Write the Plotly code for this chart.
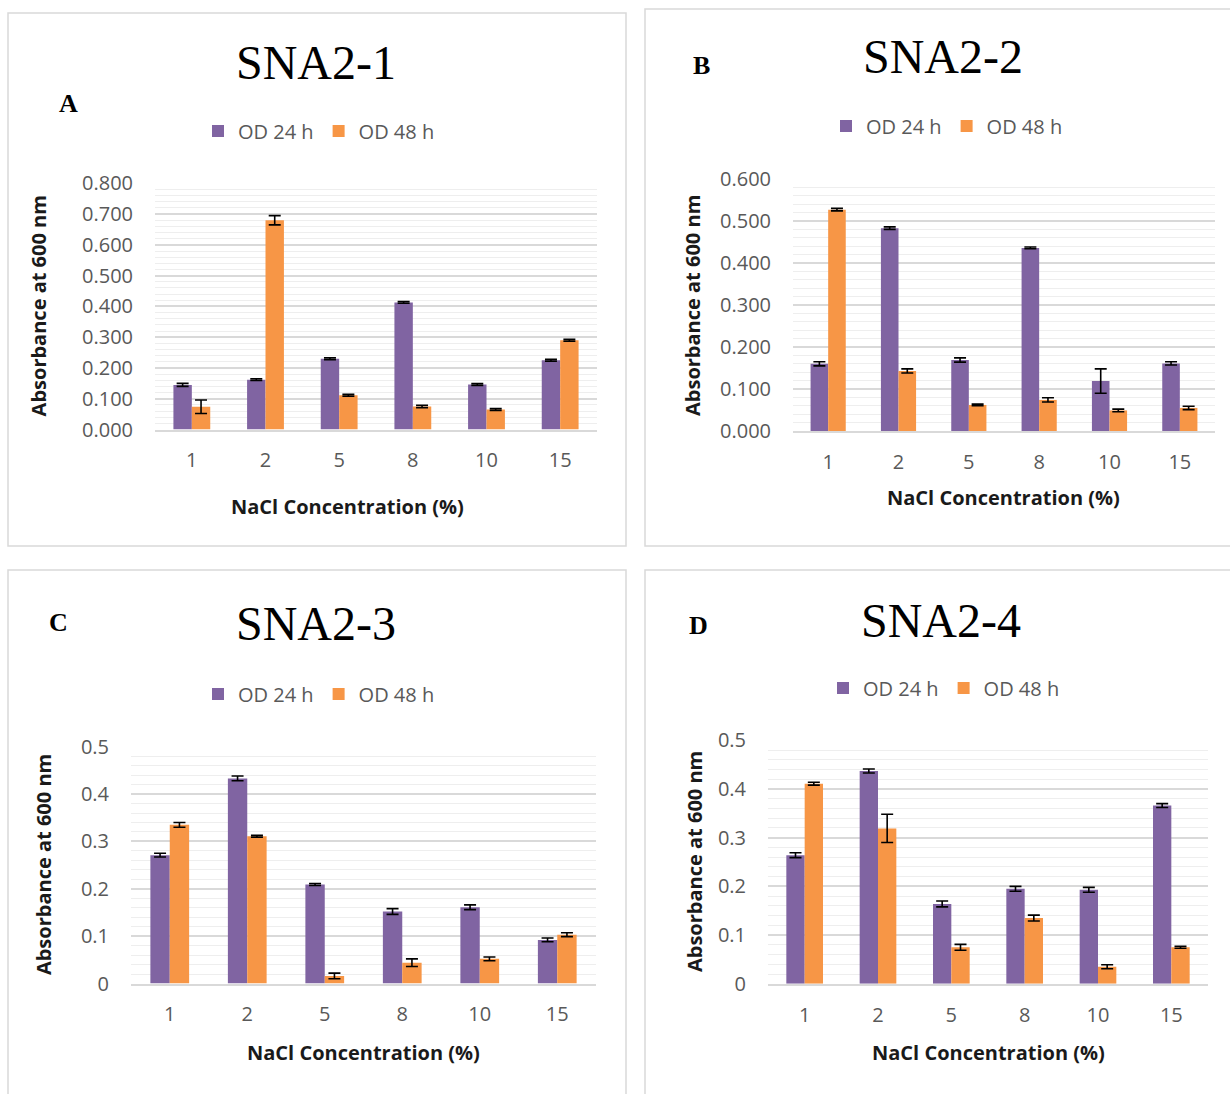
import plotly.graph_objects as go

# NaCl concentrations (%) on the x axis
nacl = ["1", "2", "5", "8", "10", "15"]

# SNA2-1
sna21_od24 = [0.145, 0.162, 0.230, 0.413, 0.146, 0.225]
sna21_od24_err = [0.005, 0.003, 0.003, 0.003, 0.003, 0.003]
sna21_od48 = [0.074, 0.680, 0.111, 0.075, 0.065, 0.290]
sna21_od48_err = [0.022, 0.015, 0.003, 0.004, 0.003, 0.003]

# SNA2-2
sna22_od24 = [0.160, 0.483, 0.169, 0.436, 0.119, 0.161]
sna22_od24_err = [0.005, 0.003, 0.005, 0.002, 0.029, 0.004]
sna22_od48 = [0.527, 0.143, 0.062, 0.074, 0.049, 0.055]
sna22_od48_err = [0.003, 0.005, 0.002, 0.005, 0.003, 0.004]

# SNA2-3
sna23_od24 = [0.271, 0.433, 0.209, 0.152, 0.161, 0.092]
sna23_od24_err = [0.004, 0.005, 0.002, 0.006, 0.005, 0.004]
sna23_od48 = [0.335, 0.311, 0.016, 0.044, 0.052, 0.103]
sna23_od48_err = [0.005, 0.002, 0.006, 0.008, 0.004, 0.004]

# SNA2-4
sna24_od24 = [0.264, 0.437, 0.164, 0.195, 0.193, 0.366]
sna24_od24_err = [0.005, 0.004, 0.006, 0.005, 0.005, 0.004]
sna24_od48 = [0.411, 0.319, 0.075, 0.135, 0.035, 0.075]
sna24_od48_err = [0.003, 0.029, 0.006, 0.006, 0.004, 0.002]

W, H = 1230, 1094
PURPLE = "#8064A2"
ORANGE = "#F79646"
GRAY_TXT = "#595959"
BODY_FONT = "Open Sans"
SERIF = "Liberation Serif"


def px(x):
    return x / W


def py(y):
    return 1 - y / H


panels = [
    dict(title="SNA2-1", letter="A", od24=sna21_od24, e24=sna21_od24_err,
         od48=sna21_od48, e48=sna21_od48_err, ymax=0.8, fmt=".3f",
         xdom=(155, 597), ydom=(183.3, 429.5), title_xy=(316, 63),
         letter_xy=(68, 104), legend_xy=(319, 131), ytitle_x=38,
         xtitle_xy=(347, 506), box=(8, 13, 626, 546)),
    dict(title="SNA2-2", letter="B", od24=sna22_od24, e24=sna22_od24_err,
         od48=sna22_od48, e48=sna22_od48_err, ymax=0.6, fmt=".3f",
         xdom=(793, 1215), ydom=(179, 431), title_xy=(943, 57),
         letter_xy=(701, 66), legend_xy=(947, 126), ytitle_x=693,
         xtitle_xy=(1003, 498), box=(645, 9, 1232, 546)),
    dict(title="SNA2-3", letter="C", od24=sna23_od24, e24=sna23_od24_err,
         od48=sna23_od48, e48=sna23_od48_err, ymax=0.5, fmt="",
         xdom=(131, 596), ydom=(746.7, 983.5), title_xy=(316, 624),
         letter_xy=(58, 622), legend_xy=(319, 694), ytitle_x=43,
         xtitle_xy=(363, 1052), box=(8, 570, 626, 1096)),
    dict(title="SNA2-4", letter="D", od24=sna24_od24, e24=sna24_od24_err,
         od48=sna24_od48, e48=sna24_od48_err, ymax=0.5, fmt="",
         xdom=(768, 1208), ydom=(740.3, 983.8), title_xy=(941, 620),
         letter_xy=(699, 625), legend_xy=(944, 688), ytitle_x=694,
         xtitle_xy=(988, 1052), box=(645, 570, 1232, 1096)),
]

fig = go.Figure()
annotations = []
shapes = []
layout_axes = {}

for i, p in enumerate(panels, start=1):
    sfx = "" if i == 1 else str(i)
    xa, ya = "x" + sfx, "y" + sfx
    leg = "legend" + sfx

    for name, vals, errs, color in [("OD 24 h", p["od24"], p["e24"], PURPLE),
                                    ("OD 48 h", p["od48"], p["e48"], ORANGE)]:
        fig.add_trace(go.Bar(
            x=nacl, y=vals, name=name, marker=dict(color=color, line=dict(width=0)),
            error_y=dict(type="data", array=errs, color="black", thickness=1.6, width=6),
            xaxis=xa, yaxis=ya, legend=leg,
        ))

    layout_axes["xaxis" + sfx] = dict(
        domain=[px(p["xdom"][0]), px(p["xdom"][1])], anchor=ya, automargin=False,
        type="category", showgrid=False, showline=True, linecolor="#D9D9D9",
        linewidth=1.5, ticks="", zeroline=False,
        tickfont=dict(family=BODY_FONT, size=20, color=GRAY_TXT),
        ticklabelstandoff=12,
    )
    layout_axes["yaxis" + sfx] = dict(
        domain=[py(p["ydom"][1]), py(p["ydom"][0])], anchor=xa, automargin=False,
        range=[0, p["ymax"]], dtick=0.1, tick0=0, tickformat=p["fmt"],
        showgrid=True, gridcolor="#D9D9D9", gridwidth=1.5, zeroline=False,
        showline=False, ticks="",
        minor=dict(dtick=0.02, showgrid=True, gridcolor="#EEEEEE", gridwidth=1.2),
        tickfont=dict(family=BODY_FONT, size=20, color=GRAY_TXT),
        ticklabelstandoff=21,
    )
    layout_axes[leg] = dict(
        orientation="h", x=px(p["legend_xy"][0]), y=py(p["legend_xy"][1]),
        xanchor="center", yanchor="middle", bgcolor="rgba(0,0,0,0)",
        font=dict(family=BODY_FONT, size=20, color=GRAY_TXT),
        itemwidth=30, tracegroupgap=0,
    )

    annotations += [
        dict(text=p["title"], x=px(p["title_xy"][0]), y=py(p["title_xy"][1]),
             font=dict(family=SERIF, size=48, color="black")),
        dict(text="<b>" + p["letter"] + "</b>", x=px(p["letter_xy"][0]),
             y=py(p["letter_xy"][1]), font=dict(family=SERIF, size=26, color="black")),
        dict(text="<b>Absorbance at 600 nm</b>", textangle=-90,
             x=px(p["ytitle_x"]), y=py((p["ydom"][0] + p["ydom"][1]) / 2),
             font=dict(family=BODY_FONT, size=20, color="#1a1a1a")),
        dict(text="<b>NaCl Concentration (%)</b>", x=px(p["xtitle_xy"][0]),
             y=py(p["xtitle_xy"][1]), font=dict(family=BODY_FONT, size=20, color="#1a1a1a")),
    ]
    x0, y0, x1, y1 = p["box"]
    shapes.append(dict(type="rect", xref="paper", yref="paper",
                       x0=px(x0), x1=px(x1), y0=py(y1), y1=py(y0),
                       line=dict(color="#D9D9D9", width=1.5), fillcolor="rgba(0,0,0,0)"))

for a in annotations:
    a.update(xref="paper", yref="paper", showarrow=False, xanchor="center", yanchor="middle")

fig.update_layout(
    width=W, height=H, margin=dict(l=0, r=0, t=0, b=0, autoexpand=False),
    paper_bgcolor="white", plot_bgcolor="white",
    barmode="group", bargap=0.5, bargroupgap=0,
    annotations=annotations, shapes=shapes, showlegend=True,
    **layout_axes,
)

fig.write_html("out.html")
